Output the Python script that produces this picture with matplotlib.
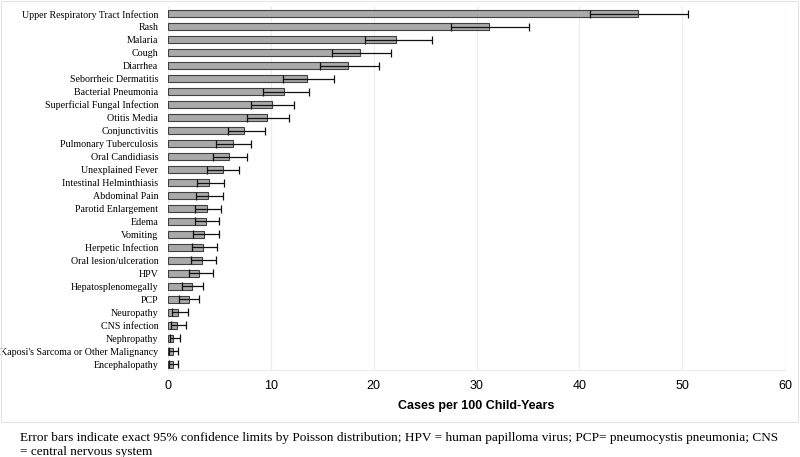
import matplotlib
matplotlib.use("Agg")
import matplotlib.pyplot as plt
from matplotlib.patches import Rectangle

conditions = [
    "Upper Respiratory Tract Infection", "Rash", "Malaria", "Cough", "Diarrhea",
    "Seborrheic Dermatitis", "Bacterial Pneumonia", "Superficial Fungal Infection",
    "Otitis Media", "Conjunctivitis", "Pulmonary Tuberculosis", "Oral Candidiasis",
    "Unexplained Fever", "Intestinal Helminthiasis", "Abdominal Pain",
    "Parotid Enlargement", "Edema", "Vomiting", "Herpetic Infection",
    "Oral lesion/ulceration", "HPV", "Hepatosplenomegally", "PCP", "Neuropathy",
    "CNS infection", "Nephropathy", "Kaposi's Sarcoma or Other Malignancy",
    "Encephalopathy",
]
rates = [45.7, 31.2, 22.2, 18.7, 17.5, 13.5, 11.3, 10.1, 9.6, 7.4, 6.3, 5.9,
         5.3, 4.0, 3.9, 3.8, 3.7, 3.5, 3.4, 3.3, 3.0, 2.3, 2.0, 1.0, 0.9, 0.5,
         0.45, 0.45]
lower = [41.0, 27.5, 19.2, 15.9, 14.8, 11.2, 9.2, 8.1, 7.7, 5.8, 4.7, 4.4,
         3.8, 2.8, 2.7, 2.6, 2.6, 2.4, 2.3, 2.2, 2.0, 1.4, 1.1, 0.4, 0.3, 0.15,
         0.1, 0.1]
upper = [50.6, 35.1, 25.7, 21.7, 20.5, 16.1, 13.7, 12.3, 11.8, 9.4, 8.1, 7.7,
         6.9, 5.4, 5.3, 5.2, 5.0, 5.0, 4.8, 4.7, 4.4, 3.4, 3.0, 1.9, 1.75, 1.2,
         1.0, 1.0]

caption = ("Error bars indicate exact 95% confidence limits by Poisson distribution; "
           "HPV = human papilloma virus; PCP= pneumocystis pneumonia; CNS\n"
           "= central nervous system")

fig = plt.figure(figsize=(8, 4.57), dpi=100)
ax = fig.add_axes([0.21, 0.19, 0.77125, 0.797])

y = list(range(len(conditions)))
xerr = [[r - l for r, l in zip(rates, lower)], [u - r for r, u in zip(rates, upper)]]
ax.barh(y, rates, height=0.5, color="#a9a9a9", edgecolor="#404040", linewidth=0.8,
        zorder=2)
ax.errorbar(rates, y, xerr=xerr, fmt="none", ecolor="#111111", elinewidth=0.9,
            capsize=3, capthick=0.9, zorder=3)

ax.set_xlim(0, 60)
ax.set_ylim(len(conditions) - 0.55, -0.6)
ax.set_xticks(range(0, 61, 10))
ax.set_yticks(y)
ax.set_yticklabels(conditions, fontfamily="Liberation Serif", fontsize=7.2)
ax.tick_params(axis="both", length=0)
ax.tick_params(axis="y", pad=7)
ax.tick_params(axis="x", pad=7)
for lbl in ax.get_xticklabels():
    lbl.set_fontfamily("Liberation Sans")
    lbl.set_fontsize(9)
ax.set_xlabel("Cases per 100 Child-Years", fontfamily="Liberation Sans",
              fontsize=9, fontweight="bold", labelpad=6)
ax.grid(axis="x", color="#ececec", linewidth=0.8, zorder=0)
for side in ["top", "right", "left"]:
    ax.spines[side].set_visible(False)
ax.spines["bottom"].set_color("#ececec")

# light frame around the chart area
fig.patches.append(Rectangle((0.001, 0.077), 0.997, 0.921, transform=fig.transFigure,
                             fill=False, edgecolor="#e4e4e4", linewidth=0.8))

fig.text(0.025, 0.055, caption, fontfamily="Liberation Serif", fontsize=9.5,
         ha="left", va="top", linespacing=1.25)

fig.savefig("out.png", dpi=100)
